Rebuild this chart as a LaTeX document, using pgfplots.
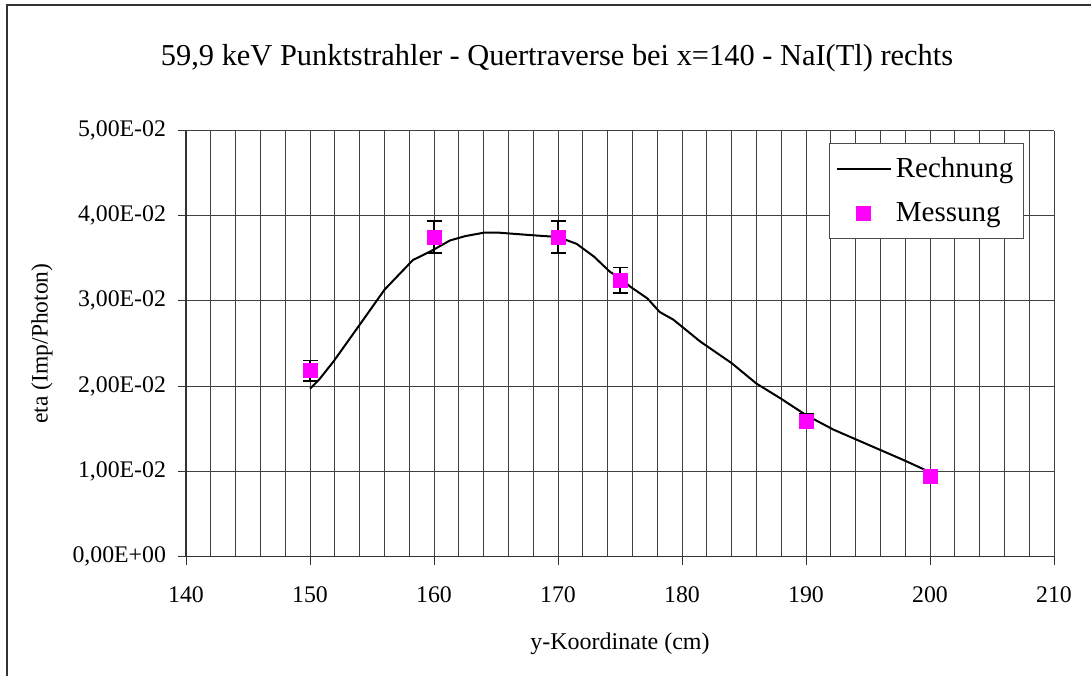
\documentclass[border=0pt]{standalone}
\usepackage{fontspec}
\setmainfont{Liberation Serif}
\usepackage{pgfplots}
\pgfplotsset{compat=1.18}
\definecolor{mag}{RGB}{255,0,255}
\begin{document}
\begin{tikzpicture}[x=1pt,y=1pt]
\useasboundingbox (0,0) rectangle (545.5,337.5);
\draw[line width=0.75pt, black!80] (3.5,-5) -- (3.5,335) -- (560,335);
\node[font=\fontsize{15.2}{18}\selectfont, anchor=center] at (278.5,308.5) {59,9 keV Punktstrahler - Quertraverse bei x=140 - NaI(Tl) rechts};
\begin{axis}[
  at={(93pt,59.25pt)}, anchor=south west,
  scale only axis, width=434pt, height=213pt,
  xmin=140, xmax=210, ymin=0, ymax=0.05,
  xtick={140,150,...,210},
  minor x tick num=4,
  ytick={0,0.01,0.02,0.03,0.04,0.05},
  yticklabels={{0,00E+00},{1,00E-02},{2,00E-02},{3,00E-02},{4,00E-02},{5,00E-02}},
  scaled y ticks=false,
  xmajorgrids, xminorgrids, ymajorgrids,
  major grid style={black!75, line width=0.5pt},
  minor grid style={black!75, line width=0.5pt},
  axis lines=left, axis line style={-, black!80, line width=0.9pt},
  tick align=outside, major tick length=4pt, minor tick length=0pt,
  tick style={black!80, line width=0.5pt},
  /pgf/number format/assume math mode=true,
  ticklabel style={font=\fontsize{11.9}{14}\selectfont},
  xticklabel style={yshift=-7.5pt},
  yticklabel style={xshift=-2.5pt},
  xlabel={y-Koordinate (cm)},
  xlabel style={at={(axis description cs:0.5,-0.204)}, anchor=center, font=\fontsize{12}{14}\selectfont},
  ylabel={eta (Imp/Photon)},
  ylabel style={at={(axis description cs:-0.1659,0.5)}, anchor=center, rotate=0, font=\fontsize{11.75}{14}\selectfont},
  legend style={at={(0.9654,0.9754)}, anchor=north east, draw=black!70, line width=0.5pt,
    font=\fontsize{14.5}{17}\selectfont, row sep=7pt, inner xsep=3pt, inner ysep=5pt, yshift=-1pt},
  legend cell align=left,
  legend image code/.code={\draw[mark repeat=2,mark phase=2,#1] plot coordinates {(0pt,0pt)(13.5pt,0pt)(27pt,0pt)};},
]
\addplot[black, line width=1pt, no marks] coordinates {
(150,0.0197)(150.7,0.0207)(151.9,0.0229)(154.3,0.0278)(156.0,0.0313)(158.3,0.0348)(159.7,0.0358)(161.3,0.0371)(162.5,0.0376)(164.0,0.0380)(165.3,0.0380)(168.0,0.0377)(170.0,0.0375)(171.5,0.0367)(172.9,0.0352)(174.2,0.0334)(175.0,0.0327)(175.8,0.0317)(177.2,0.0303)(178.2,0.0287)(179.3,0.0278)(181.5,0.0252)(184.0,0.0227)(186.0,0.0203)(187.9,0.0186)(190.0,0.0166)(192.2,0.0149)(194.1,0.0137)(196.0,0.0125)(197.9,0.0113)(199.7,0.0101)(200,0.0099)
};
\addlegendentry{Rechnung}
\addplot[only marks, mark=square*, mark size=3.5pt, mark options={draw=mag, fill=mag},
  error bars/.cd, y dir=both, y explicit,
  error bar style={black, line width=0.75pt},
  error mark options={rotate=90, mark size=3.75pt, black, line width=0.75pt}]
coordinates {
(150,0.0218) +- (0,0.0012)
(160,0.0375) +- (0,0.0019)
(170,0.0375) +- (0,0.0019)
(175,0.0324) +- (0,0.0015)
(190,0.0159) +- (0,0.0008)
(200,0.0094) +- (0,0.0006)
};
\addlegendentry{Messung}
\end{axis}
\end{tikzpicture}
\end{document}
